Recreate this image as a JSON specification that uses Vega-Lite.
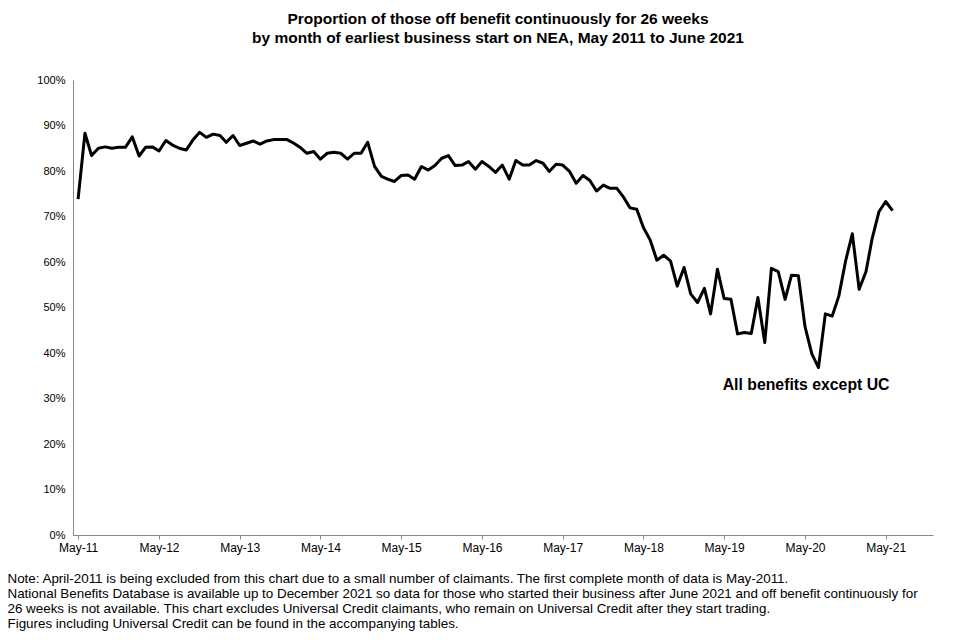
{
  "$schema": "https://vega.github.io/schema/vega-lite/v6.json",
  "autosize": {"type": "none"},
  "padding": {"left": 73, "top": 80, "right": 27, "bottom": 105},
  "width": 860,
  "height": 455,
  "background": "white",
  "title": {
    "text": ["Proportion of those off benefit continuously for 26 weeks", "by month of earliest business start on NEA, May 2011 to June 2021"],
    "font": "Liberation Sans",
    "fontSize": 15.5,
    "fontWeight": "bold",
    "color": "#000000",
    "lineHeight": 19,
    "anchor": "middle",
    "dx": -5,
    "offset": 28
  },
  "config": {
    "view": {"stroke": null},
    "font": "Liberation Sans",
    "axis": {
      "labelFont": "Liberation Sans",
      "labelColor": "#000000",
      "labelFontSize": 11,
      "domainColor": "#868686",
      "tickColor": "#868686",
      "grid": false
    }
  },
  "layer": [
    {
      "data": {
        "values": [
          {"month": "2011-05", "value": 73.8},
          {"month": "2011-06", "value": 88.3},
          {"month": "2011-07", "value": 83.4},
          {"month": "2011-08", "value": 85.0},
          {"month": "2011-09", "value": 85.3},
          {"month": "2011-10", "value": 85.0},
          {"month": "2011-11", "value": 85.2},
          {"month": "2011-12", "value": 85.2},
          {"month": "2012-01", "value": 87.5},
          {"month": "2012-02", "value": 83.3},
          {"month": "2012-03", "value": 85.2},
          {"month": "2012-04", "value": 85.3},
          {"month": "2012-05", "value": 84.4},
          {"month": "2012-06", "value": 86.7},
          {"month": "2012-07", "value": 85.7},
          {"month": "2012-08", "value": 85.0},
          {"month": "2012-09", "value": 84.6},
          {"month": "2012-10", "value": 86.8},
          {"month": "2012-11", "value": 88.5},
          {"month": "2012-12", "value": 87.4},
          {"month": "2013-01", "value": 88.1},
          {"month": "2013-02", "value": 87.8},
          {"month": "2013-03", "value": 86.3},
          {"month": "2013-04", "value": 87.8},
          {"month": "2013-05", "value": 85.6},
          {"month": "2013-06", "value": 86.1},
          {"month": "2013-07", "value": 86.6},
          {"month": "2013-08", "value": 85.9},
          {"month": "2013-09", "value": 86.6},
          {"month": "2013-10", "value": 86.9},
          {"month": "2013-11", "value": 86.9},
          {"month": "2013-12", "value": 86.9},
          {"month": "2014-01", "value": 86.1},
          {"month": "2014-02", "value": 85.1},
          {"month": "2014-03", "value": 83.9},
          {"month": "2014-04", "value": 84.3},
          {"month": "2014-05", "value": 82.6},
          {"month": "2014-06", "value": 83.9},
          {"month": "2014-07", "value": 84.1},
          {"month": "2014-08", "value": 83.9},
          {"month": "2014-09", "value": 82.6},
          {"month": "2014-10", "value": 83.9},
          {"month": "2014-11", "value": 83.9},
          {"month": "2014-12", "value": 86.3},
          {"month": "2015-01", "value": 81.0},
          {"month": "2015-02", "value": 78.8},
          {"month": "2015-03", "value": 78.2},
          {"month": "2015-04", "value": 77.7},
          {"month": "2015-05", "value": 79.0},
          {"month": "2015-06", "value": 79.1},
          {"month": "2015-07", "value": 78.2},
          {"month": "2015-08", "value": 81.0},
          {"month": "2015-09", "value": 80.2},
          {"month": "2015-10", "value": 81.2},
          {"month": "2015-11", "value": 82.8},
          {"month": "2015-12", "value": 83.4},
          {"month": "2016-01", "value": 81.2},
          {"month": "2016-02", "value": 81.3},
          {"month": "2016-03", "value": 82.1},
          {"month": "2016-04", "value": 80.4},
          {"month": "2016-05", "value": 82.1},
          {"month": "2016-06", "value": 81.0},
          {"month": "2016-07", "value": 79.7},
          {"month": "2016-08", "value": 81.3},
          {"month": "2016-09", "value": 78.2},
          {"month": "2016-10", "value": 82.3},
          {"month": "2016-11", "value": 81.3},
          {"month": "2016-12", "value": 81.3},
          {"month": "2017-01", "value": 82.3},
          {"month": "2017-02", "value": 81.7},
          {"month": "2017-03", "value": 79.9},
          {"month": "2017-04", "value": 81.5},
          {"month": "2017-05", "value": 81.3},
          {"month": "2017-06", "value": 79.9},
          {"month": "2017-07", "value": 77.3},
          {"month": "2017-08", "value": 79.0},
          {"month": "2017-09", "value": 77.9},
          {"month": "2017-10", "value": 75.6},
          {"month": "2017-11", "value": 76.9},
          {"month": "2017-12", "value": 76.2},
          {"month": "2018-01", "value": 76.2},
          {"month": "2018-02", "value": 74.2},
          {"month": "2018-03", "value": 71.9},
          {"month": "2018-04", "value": 71.6},
          {"month": "2018-05", "value": 67.6},
          {"month": "2018-06", "value": 64.8},
          {"month": "2018-07", "value": 60.4},
          {"month": "2018-08", "value": 61.5},
          {"month": "2018-09", "value": 60.2},
          {"month": "2018-10", "value": 54.7},
          {"month": "2018-11", "value": 58.8},
          {"month": "2018-12", "value": 53.0},
          {"month": "2019-01", "value": 51.1},
          {"month": "2019-02", "value": 54.2},
          {"month": "2019-03", "value": 48.6},
          {"month": "2019-04", "value": 58.4},
          {"month": "2019-05", "value": 52.0},
          {"month": "2019-06", "value": 51.8},
          {"month": "2019-07", "value": 44.2},
          {"month": "2019-08", "value": 44.5},
          {"month": "2019-09", "value": 44.3},
          {"month": "2019-10", "value": 52.2},
          {"month": "2019-11", "value": 42.3},
          {"month": "2019-12", "value": 58.6},
          {"month": "2020-01", "value": 57.9},
          {"month": "2020-02", "value": 51.8},
          {"month": "2020-03", "value": 57.1},
          {"month": "2020-04", "value": 57.0},
          {"month": "2020-05", "value": 45.8},
          {"month": "2020-06", "value": 39.8},
          {"month": "2020-07", "value": 36.8},
          {"month": "2020-08", "value": 48.6},
          {"month": "2020-09", "value": 48.1},
          {"month": "2020-10", "value": 52.5},
          {"month": "2020-11", "value": 60.3},
          {"month": "2020-12", "value": 66.2},
          {"month": "2021-01", "value": 54.0},
          {"month": "2021-02", "value": 57.9},
          {"month": "2021-03", "value": 65.2},
          {"month": "2021-04", "value": 71.1},
          {"month": "2021-05", "value": 73.3},
          {"month": "2021-06", "value": 71.3}
        ],
        "format": {"parse": {"month": "date:'%Y-%m'"}}
      },
      "mark": {"type": "line", "color": "#000000", "strokeWidth": 3, "strokeJoin": "round"},
      "encoding": {
        "x": {
          "field": "month",
          "type": "temporal",
          "scale": {"domain": [{"year": 2011, "month": 4, "date": 8}, {"year": 2021, "month": 12, "date": 1}]},
          "axis": {
            "values": [
              {"year": 2011, "month": 5, "date": 1},
              {"year": 2012, "month": 5, "date": 1},
              {"year": 2013, "month": 5, "date": 1},
              {"year": 2014, "month": 5, "date": 1},
              {"year": 2015, "month": 5, "date": 1},
              {"year": 2016, "month": 5, "date": 1},
              {"year": 2017, "month": 5, "date": 1},
              {"year": 2018, "month": 5, "date": 1},
              {"year": 2019, "month": 5, "date": 1},
              {"year": 2020, "month": 5, "date": 1},
              {"year": 2021, "month": 5, "date": 1}
            ],
            "format": "%b-%y",
            "labelFontSize": 12,
            "tickSize": 4,
            "labelPadding": 3,
            "labelFlush": false,
            "labelOverlap": false,
            "title": [
              "Note: April-2011 is being excluded from this chart due to a small number of claimants. The first complete month of data is May-2011.",
              "National Benefits Database is available  up to December 2021 so data for those who started their business after June 2021 and off benefit continuously for",
              "26 weeks is not available.  This chart excludes Universal Credit claimants, who remain on Universal Credit after they start trading.",
              "Figures including Universal Credit can be found in the accompanying tables."
            ],
            "titleFont": "Liberation Sans",
            "titleFontSize": 13.4,
            "titleFontWeight": "normal",
            "titleColor": "#000000",
            "titleLineHeight": 15,
            "titleAlign": "left",
            "titleAnchor": "start",
            "titleBaseline": "alphabetic",
            "titleX": -66,
            "titleY": 47
          }
        },
        "y": {
          "field": "value",
          "type": "quantitative",
          "scale": {"domain": [0, 100], "nice": false},
          "axis": {
            "values": [0, 10, 20, 30, 40, 50, 60, 70, 80, 90, 100],
            "labelExpr": "datum.value + '%'",
            "tickSize": 0,
            "labelPadding": 8,
            "title": null
          }
        }
      }
    },
    {
      "data": {"values": [{}]},
      "mark": {"type": "text", "text": "All benefits except UC", "font": "Liberation Sans", "fontSize": 15.8, "fontWeight": "bold", "fill": "#000000", "align": "center", "baseline": "middle"},
      "encoding": {
        "x": {"datum": {"year": 2020, "month": 5, "date": 6}, "type": "temporal"},
        "y": {"datum": 33.0, "type": "quantitative"}
      }
    }
  ]
}
